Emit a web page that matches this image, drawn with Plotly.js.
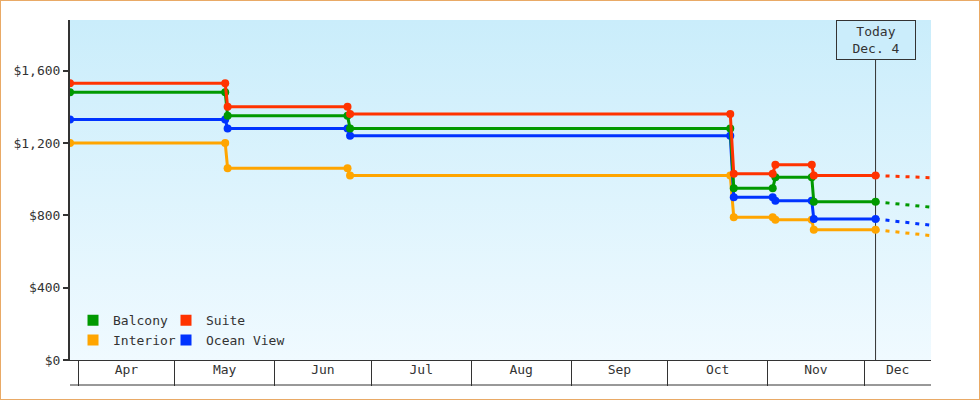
<!DOCTYPE html>
<html><head><meta charset="utf-8">
<script src="https://cdn.plot.ly/plotly-3.0.1.min.js"></script>
<style>
html,body{margin:0;padding:0;background:#fff;}
#wrap{width:980px;height:400px;box-sizing:border-box;border:1px solid #e9aa66;background:#fff;}
#chart{width:978px;height:398px;}
</style></head><body><div id="wrap"><div id="chart"></div></div>
<script>
// ---- data ----
const dates = ['2023-03-29 12:00','2023-05-16 16:00','2023-05-17 10:00','2023-06-23 15:00','2023-06-24 10:00',
  '2023-10-20 10:00','2023-10-21 12:00','2023-11-02 14:00','2023-11-03 10:00','2023-11-14 17:00','2023-11-15 08:00','2023-12-04 12:00'];
const projectionDates = ['2023-12-04 12:00','2023-12-21 17:00'];
const balcony   = [1480,1480,1350,1350,1280,1280,950,950,1010,1010,875,875];
const suite     = [1530,1530,1400,1400,1360,1360,1030,1030,1080,1080,1020,1020];
const interior  = [1200,1200,1060,1060,1020,1020,790,790,775,775,720,720];
const oceanView = [1330,1330,1280,1280,1240,1240,900,900,880,880,780,780];
const balconyProj   = [875,845];
const suiteProj     = [1020,1008];
const interiorProj  = [720,688];
const oceanViewProj = [780,745];
const monthStarts = ['2023-04-01','2023-05-01','2023-06-01','2023-07-01','2023-08-01','2023-09-01','2023-10-01','2023-11-01','2023-12-01'];
const monthLabels = ['Apr','May','Jun','Jul','Aug','Sep','Oct','Nov','Dec'];
const yTicks = [0,400,800,1200,1600];
const yTickLabels = ['$0','$400','$800','$1,200','$1,600'];
const todayDate = '2023-12-04 12:00';
const todayLabel = 'Today<br>Dec. 4';

// ---- styles ----
const FONT = 'DejaVu Sans Mono';
const INK = '#333333';
const colors = {Balcony:'#009900', Suite:'#ff3300', Interior:'#ffa500', 'Ocean View':'#0033ff'};
const xRange = [dates[0], projectionDates[1]];

function toMs(s){ return Date.parse(s.replace(' ','T') + (s.length>10?':00Z':'T00:00:00Z')); }
const bounds = monthStarts.map(toMs).concat([toMs(xRange[1])]);
const labelPos = monthLabels.map((m,i)=> (bounds[i]+bounds[i+1])/2);

const series = [
  ['Interior', interior, interiorProj],
  ['Ocean View', oceanView, oceanViewProj],
  ['Balcony', balcony, balconyProj],
  ['Suite', suite, suiteProj]
];
const traces = [];
series.forEach(([name, vals, proj]) => {
  traces.push({x: projectionDates, y: proj, mode:'lines', showlegend:false, hoverinfo:'skip',
    line:{color:colors[name], width:3, dash:'4px,6px'}});
});
series.forEach(([name, vals]) => {
  traces.push({x: dates, y: vals, name: name, mode:'lines+markers', showlegend:false,
    line:{color:colors[name], width:3}, marker:{color:colors[name], size:8, symbol:'circle'}});
});
// legend entries
[['Balcony','legend'],['Interior','legend'],['Suite','legend2'],['Ocean View','legend2']].forEach(([name,lg])=>{
  traces.push({x:[null], y:[null], name:name, mode:'markers', legend:lg, showlegend:true,
    marker:{color:colors[name], size:11, symbol:'square'}});
});
// invisible trace to attach xaxis2
traces.push({x:[xRange[0]], y:[null], xaxis:'x2', yaxis:'y', mode:'markers', showlegend:false, hoverinfo:'skip'});

const bgSvg = "<svg xmlns='http://www.w3.org/2000/svg' width='10' height='100' preserveAspectRatio='none'>" +
  "<defs><linearGradient id='g' x1='0' y1='0' x2='0' y2='1'><stop offset='0' stop-color='#caedfb'/>" +
  "<stop offset='1' stop-color='#f0faff'/></linearGradient></defs><rect width='10' height='100' fill='url(#g)'/></svg>";

const legendCommon = {bgcolor:'rgba(0,0,0,0)', borderwidth:0, font:{family:FONT,size:13,color:INK},
  itemwidth:30, orientation:'v', xanchor:'left', yanchor:'top', tracegroupgap:0, itemclick:false, itemdoubleclick:false};

const layout = {
  width:978, height:398,
  margin:{l:69, r:48, t:19, b:39, pad:0},
  paper_bgcolor:'#ffffff', plot_bgcolor:'rgba(0,0,0,0)',
  font:{family:FONT, size:13, color:INK},
  showlegend:true,
  legend: Object.assign({}, legendCommon, {x:0.0035, y:0.161}),
  legend2: Object.assign({}, legendCommon, {x:0.1115, y:0.161}),
  xaxis:{type:'date', range:xRange, showgrid:false, zeroline:false,
    tickmode:'array', tickvals:monthStarts, showticklabels:false,
    ticks:'outside', ticklen:25, tickwidth:1, tickcolor:INK,
    showline:true, linecolor:INK, linewidth:1},
  xaxis2:{type:'date', range:xRange, overlaying:'x', anchor:'y', side:'bottom', showgrid:false, zeroline:false,
    tickmode:'array', tickvals:labelPos, ticktext:monthLabels, ticks:'', showline:false,
    tickfont:{family:FONT,size:13,color:INK}},
  yaxis:{range:[0,1880], showgrid:false, zeroline:false, tickmode:'array', tickvals:yTicks, ticktext:yTickLabels,
    ticks:'outside', ticklen:5, tickwidth:2, tickcolor:INK,
    showline:true, linecolor:INK, linewidth:2, tickfont:{family:FONT,size:13,color:INK}},
  images:[{source:'data:image/svg+xml;charset=utf-8,'+encodeURIComponent(bgSvg), xref:'paper', yref:'paper',
    x:0, y:1, sizex:1, sizey:1, sizing:'stretch', xanchor:'left', yanchor:'top', layer:'below'}],
  shapes:[
    {type:'line', xref:'x', yref:'paper', x0:todayDate, x1:todayDate, y0:0, y1:1, layer:'below',
      line:{color:INK, width:1}},
    {type:'line', xref:'paper', yref:'paper', x0:0, x1:1, y0:-25/340, y1:-25/340, line:{color:INK, width:1}}
  ],
  annotations:[{x:todayDate, xref:'x', y:1, yref:'paper', yanchor:'top', xanchor:'center', showarrow:false,
    text:todayLabel, align:'center', font:{family:FONT,size:13,color:INK},
    bgcolor:'#cbedfb', bordercolor:INK, borderwidth:1, borderpad:1, width:76, height:36}]
};
Plotly.newPlot('chart', traces, layout, {displayModeBar:false, staticPlot:true});
</script></body></html>
